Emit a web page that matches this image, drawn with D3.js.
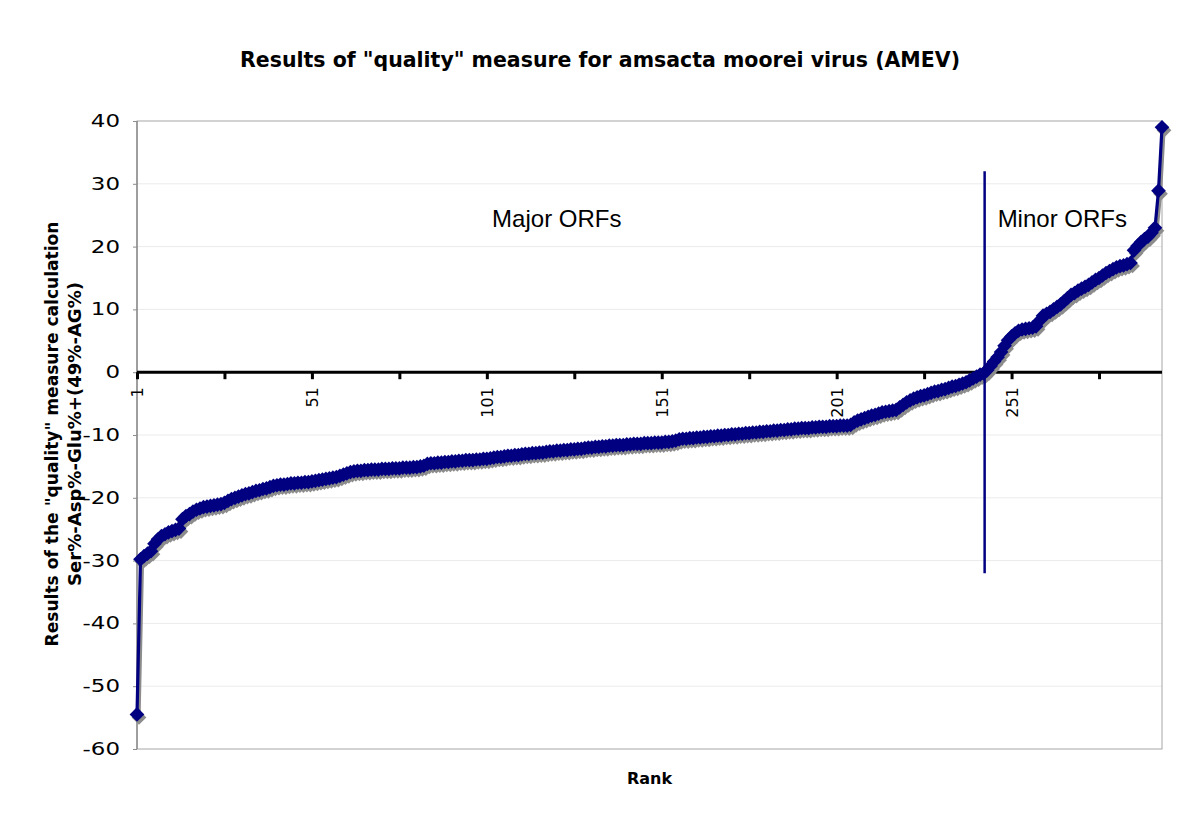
<!DOCTYPE html>
<html>
<head>
<meta charset="utf-8">
<script src="https://cdn.jsdelivr.net/npm/d3@7"></script>
<style>
  html, body { margin: 0; padding: 0; background: #fff; }
  svg { display: block; }
</style>
</head>
<body>
<svg id="chart" width="1200" height="831"></svg>
<script>
// ---------- DATA ----------
const titleText = 'Results of "quality" measure for amsacta moorei virus (AMEV)';
const yTitleLines = ['Results of the "quality" measure calculation', 'Ser%-Asp%-Glu%+(49%-AG%)'];
const xTitleText = 'Rank';
const yTicks = [-60, -50, -40, -30, -20, -10, 0, 10, 20, 30, 40];
const xTickMarks = [1, 26, 51, 76, 101, 126, 151, 176, 201, 226, 251, 276];
const xTickLabels = [1, 51, 101, 151, 201, 251];
const qualityValues = [
  -54.5, -29.8, -29.3, -28.9, -28.5, -27.3, -26.6, -26.1, -25.8, -25.5,
  -25.3, -25.1, -24.9, -23.4, -22.9, -22.6, -22.2, -21.9, -21.7, -21.5,
  -21.4, -21.3, -21.2, -21.1, -21.0, -20.8, -20.5, -20.2, -20.0, -19.8,
  -19.6, -19.4, -19.3, -19.1, -18.9, -18.8, -18.6, -18.5, -18.3, -18.1,
  -18.0, -17.9, -17.9, -17.8, -17.7, -17.7, -17.6, -17.6, -17.5, -17.5,
  -17.4, -17.3, -17.2, -17.1, -17.0, -16.9, -16.8, -16.7, -16.5, -16.3,
  -16.1, -15.9, -15.8, -15.7, -15.7, -15.6, -15.6, -15.5, -15.5, -15.5,
  -15.4, -15.4, -15.4, -15.3, -15.3, -15.3, -15.2, -15.2, -15.2, -15.1,
  -15.1, -15.0, -14.9, -14.6, -14.5, -14.5, -14.4, -14.4, -14.3, -14.3,
  -14.2, -14.2, -14.1, -14.1, -14.0, -14.0, -14.0, -13.9, -13.9, -13.8,
  -13.8, -13.7, -13.6, -13.5, -13.5, -13.4, -13.3, -13.3, -13.2, -13.2,
  -13.1, -13.0, -13.0, -12.9, -12.9, -12.8, -12.8, -12.7, -12.6, -12.6,
  -12.5, -12.5, -12.4, -12.4, -12.3, -12.3, -12.2, -12.2, -12.1, -12.0,
  -12.0, -11.9, -11.9, -11.8, -11.8, -11.7, -11.7, -11.6, -11.6, -11.6,
  -11.5, -11.5, -11.4, -11.4, -11.4, -11.3, -11.3, -11.3, -11.2, -11.2,
  -11.2, -11.1, -11.1, -11.0, -10.9, -10.7, -10.6, -10.6, -10.5, -10.5,
  -10.4, -10.4, -10.3, -10.3, -10.2, -10.2, -10.1, -10.1, -10.0, -10.0,
  -9.9, -9.9, -9.8, -9.8, -9.7, -9.7, -9.6, -9.6, -9.5, -9.5,
  -9.4, -9.4, -9.3, -9.3, -9.2, -9.2, -9.1, -9.1, -9.0, -9.0,
  -8.9, -8.9, -8.9, -8.8, -8.8, -8.7, -8.7, -8.7, -8.6, -8.6,
  -8.6, -8.5, -8.5, -8.5, -8.4, -8.0, -7.7, -7.5, -7.3, -7.1,
  -6.9, -6.8, -6.6, -6.4, -6.3, -6.2, -6.1, -6.0, -5.6, -5.2,
  -4.8, -4.5, -4.2, -4.0, -3.8, -3.7, -3.5, -3.3, -3.1, -3.0,
  -2.8, -2.7, -2.5, -2.3, -2.2, -2.0, -1.8, -1.6, -1.3, -1.0,
  -0.7, -0.4, -0.2, 0.3, 1.0, 1.7, 2.4, 3.2, 4.2, 5.1,
  5.7, 6.2, 6.6, 6.8, 6.9, 7.0, 7.1, 7.3, 8.2, 9.0,
  9.3, 9.6, 10.0, 10.4, 10.8, 11.3, 11.8, 12.3, 12.6, 13.0,
  13.3, 13.6, 13.9, 14.3, 14.7, 15.0, 15.4, 15.8, 16.1, 16.4,
  16.7, 16.9, 17.0, 17.2, 17.4, 19.4, 20.1, 20.7, 21.2, 21.6,
  22.2, 23.0, 28.9, 39.0
];
const ranks = qualityValues.map((v, i) => i + 1);
const dividerRank = 243.3;
const dividerExtent = [-32, 32];
const regionLabels = ['Major ORFs', 'Minor ORFs'];
const regionLabelRanks = [121, 265.5];
const regionLabelValue = 24.5;

// ---------- LAYOUT ----------
const svg = d3.select('#chart');
const plotL = 137, plotR = 1162, plotT = 121, plotB = 749;
const x = d3.scaleLinear().domain([1, qualityValues.length]).range([plotL, plotR]);
const y = d3.scaleLinear().domain([-60, 40]).range([plotB, plotT]);
const FONT = 'DejaVu Sans, Verdana, sans-serif';

// grid lines
svg.append('g').selectAll('line')
  .data(yTicks.filter(t => t !== 0 && t !== -60 && t !== 40))
  .join('line')
  .attr('x1', plotL).attr('x2', plotR)
  .attr('y1', d => y(d)).attr('y2', d => y(d))
  .attr('stroke', '#ebebeb').attr('stroke-width', 1);

// frame
svg.append('rect')
  .attr('x', plotL).attr('y', plotT)
  .attr('width', plotR - plotL).attr('height', plotB - plotT)
  .attr('fill', 'none').attr('stroke', '#a6a6a6').attr('stroke-width', 1);
svg.append('line')
  .attr('x1', plotL).attr('x2', plotL).attr('y1', plotT).attr('y2', plotB)
  .attr('stroke', '#8c8c8c').attr('stroke-width', 1.5);

// y axis labels + ticks
const labelScaleX = 1.35;
const yAxis = d3.axisLeft(y).tickValues(yTicks).tickSize(4).tickPadding(0)
  .tickFormat(d => String(d));
const gy = svg.append('g').attr('transform', `translate(${plotL},0)`).call(yAxis);
gy.select('.domain').remove();
gy.selectAll('line').attr('stroke', '#8c8c8c');
gy.selectAll('text')
  .attr('x', -17 / labelScaleX)
  .attr('transform', `scale(${labelScaleX},1)`)
  .attr('font-family', FONT)
  .attr('font-size', 17).attr('fill', '#000');

// x axis at zero
const xAxis = d3.axisBottom(x).tickValues(xTickMarks).tickSize(7).tickFormat('');
const gx = svg.append('g').attr('transform', `translate(0,${y(0)})`).call(xAxis);
gx.select('.domain').attr('stroke', '#000').attr('stroke-width', 3)
  .attr('d', `M${plotL},0H${plotR}`);
gx.selectAll('.tick line').attr('stroke', '#000').attr('stroke-width', 3);

svg.append('g').selectAll('text')
  .data(xTickLabels)
  .join('text')
  .attr('transform', d => `translate(${x(d) + 6},${y(0) + 15}) rotate(-90)`)
  .attr('text-anchor', 'end')
  .attr('font-family', FONT)
  .attr('font-size', 16)
  .text(d => d);

// series
const line = d3.line().x((d, i) => x(ranks[i])).y(d => y(d));
const diamond = d3.symbol(d3.symbolSquare, 108);

function drawSeries(color, dx, dy) {
  const g = svg.append('g').attr('transform', `translate(${dx},${dy})`);
  g.append('path').datum(qualityValues)
    .attr('d', line).attr('fill', 'none')
    .attr('stroke', color).attr('stroke-width', 3.2).attr('stroke-linejoin', 'round');
  g.selectAll('path.m').data(qualityValues).join('path')
    .attr('class', 'm')
    .attr('d', diamond)
    .attr('transform', (d, i) => `translate(${x(ranks[i])},${y(d)}) rotate(45)`)
    .attr('fill', color);
}
drawSeries('#8c8c8c', 2, 3);
drawSeries('#000080', 0, 0);

// divider line
svg.append('line')
  .attr('x1', x(dividerRank)).attr('x2', x(dividerRank))
  .attr('y1', y(dividerExtent[1])).attr('y2', y(dividerExtent[0]))
  .attr('stroke', '#000080').attr('stroke-width', 2.5);

// region labels
svg.append('g').selectAll('text')
  .data(regionLabels)
  .join('text')
  .attr('x', (d, i) => x(regionLabelRanks[i]))
  .attr('y', y(regionLabelValue))
  .attr('text-anchor', 'middle')
  .attr('font-family', 'Liberation Sans, Arial, sans-serif')
  .attr('font-size', 24)
  .attr('dy', '0.35em')
  .text(d => d);

// title
svg.append('text')
  .attr('x', 600).attr('y', 67)
  .attr('text-anchor', 'middle')
  .attr('font-family', FONT)
  .attr('font-weight', 'bold').attr('font-size', 20.5)
  .attr('textLength', 720).attr('lengthAdjust', 'spacingAndGlyphs')
  .text(titleText);

// x title
svg.append('text')
  .attr('x', (plotL + plotR) / 2).attr('y', 784)
  .attr('text-anchor', 'middle')
  .attr('font-family', FONT)
  .attr('font-weight', 'bold').attr('font-size', 16)
  .text(xTitleText);

// y title
const yTitleLengths = [425, 304];
const yt = svg.append('text')
  .attr('transform', `translate(58,${434}) rotate(-90)`)
  .attr('text-anchor', 'middle')
  .attr('font-family', FONT)
  .attr('font-weight', 'bold').attr('font-size', 17);
yt.selectAll('tspan').data(yTitleLines).join('tspan')
  .attr('x', 0).attr('dy', (d, i) => i === 0 ? 0 : 23)
  .attr('textLength', (d, i) => yTitleLengths[i])
  .attr('lengthAdjust', 'spacingAndGlyphs')
  .text(d => d);
</script>
</body>
</html>
